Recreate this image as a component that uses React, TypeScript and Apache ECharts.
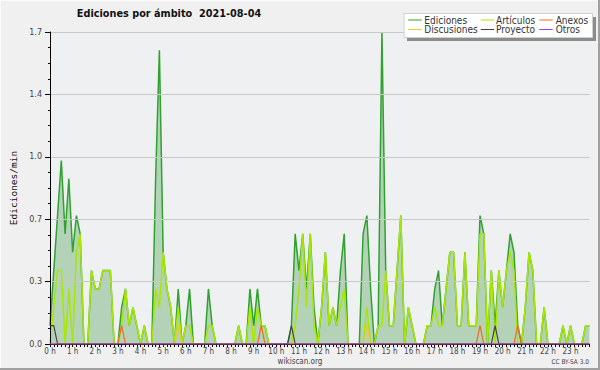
import React, { useEffect, useRef } from 'react';
import * as echarts from 'echarts';

const HOURS = ['0','1','2','3','4','5','6','7','8','9','10','11','12','13','14','15','16','17','18','19','20','21','22','23'];
const MINUTES = ['00','10','20','30','40','50'];

const EDICIONES = [
  0.1,0.4,0.7,1.0,0.6,0.9,0.5,0.7,0.6,0,0,0.4,
  0.3,0.3,0.4,0.4,0.4,0,0,0.2,0.3,0.1,0.2,0.1,
  0,0.1,0,0,0.9,1.6,0.5,0.3,0.2,0,0.3,0,
  0.1,0.3,0,0,0,0,0.3,0.1,0,0,0,0,
  0,0,0.1,0,0,0.3,0.1,0.3,0.1,0.1,0,0,
  0,0,0,0,0.1,0.6,0.4,0.6,0.3,0.6,0.2,0,
  0.2,0.5,0.1,0.2,0.1,0.4,0.6,0,0,0,0,0.6,
  0.7,0.3,0,0.1,1.7,0.4,0.1,0.1,0.4,0.7,0,0.2,
  0.1,0,0,0,0.1,0.1,0.3,0.4,0.1,0.3,0.5,0.5,
  0.1,0.1,0.5,0.1,0.1,0.1,0.7,0.6,0,0.4,0.1,0.4,
  0.2,0.4,0.6,0.5,0.1,0,0.2,0.5,0.4,0,0,0.2,
  0,0,0,0,0.1,0,0.1,0,0,0,0.1,0.1,
];

const ARTICULOS = [
  0,0.2,0.4,0.4,0,0.3,0,0.5,0.6,0,0,0.4,
  0.3,0.3,0.4,0.4,0.4,0,0,0.1,0.3,0.1,0.2,0.1,
  0,0.1,0,0,0.3,0.2,0.5,0.3,0.2,0,0.2,0,
  0.1,0.1,0,0,0,0,0.1,0.1,0,0,0,0,
  0,0,0.1,0,0,0.2,0,0.2,0.1,0.1,0,0,
  0,0,0,0,0,0.1,0.3,0.6,0.2,0.6,0.1,0,
  0.2,0.5,0.1,0.2,0.1,0.2,0.3,0,0,0,0,0,
  0.2,0,0,0.1,0.1,0.4,0.1,0.1,0.4,0.7,0,0.2,
  0.1,0,0,0,0.1,0.1,0.2,0.1,0.1,0.3,0.5,0.5,
  0.1,0.1,0.5,0.1,0.1,0.1,0.6,0.6,0,0.4,0,0.4,
  0.2,0.4,0.5,0.4,0,0,0.2,0.5,0.4,0,0,0.2,
  0,0,0,0,0.1,0,0.1,0,0,0,0.1,0.1,
];

const ANEXOS = [
  0,0,0,0,0,0,0,0,0,0,0,0,
  0,0,0,0,0,0,0,0.1,0,0,0,0,
  0,0,0,0,0,0,0,0,0,0,0,0,
  0,0,0,0,0,0,0,0,0,0,0,0,
  0,0,0,0,0,0,0,0,0.1,0,0,0,
  0,0,0,0,0,0,0,0,0,0,0,0,
  0,0,0,0,0,0,0,0,0,0,0,0,
  0,0,0,0,0,0,0,0,0,0,0,0,
  0,0,0,0,0,0,0,0,0,0,0,0,
  0,0,0,0,0,0,0.1,0,0,0,0,0,
  0,0,0,0,0.1,0,0,0,0,0,0,0,
  0,0,0,0,0,0,0,0,0,0,0,0,
];

const DISCUSIONES = [
  0,0,0,0,0,0,0,0,0,0,0,0,
  0,0,0,0,0,0,0,0,0,0,0,0,
  0,0,0,0,0,0,0,0,0,0,0.1,0,
  0,0,0,0,0,0,0,0,0,0,0,0,
  0,0,0,0,0,0,0,0,0,0,0,0,
  0,0,0,0,0,0,0,0,0,0,0,0,
  0,0,0,0,0,0,0,0,0,0,0,0,
  0.1,0,0,0,0,0,0,0,0,0,0,0,
  0,0,0,0,0,0,0,0,0,0,0,0,
  0,0,0,0,0,0,0,0,0,0,0,0,
  0,0,0,0,0,0,0,0,0,0,0,0,
  0,0,0,0,0,0,0,0,0,0,0,0,
];

const PROYECTO = [
  0.1,0.1,0,0,0,0,0,0,0,0,0,0,
  0,0,0,0,0,0,0,0,0,0,0,0,
  0,0,0,0,0,0,0,0,0,0,0,0,
  0,0,0,0,0,0,0,0,0,0,0,0,
  0,0,0,0,0,0,0,0,0,0,0,0,
  0,0,0,0,0.1,0,0,0,0,0,0,0,
  0,0,0,0,0,0,0,0,0,0,0,0,
  0,0,0,0,0,0,0,0,0,0,0,0,
  0,0,0,0,0,0,0,0,0,0,0,0,
  0,0,0,0,0,0,0,0,0,0,0.1,0,
  0,0,0,0,0,0,0,0,0,0,0,0,
  0,0,0,0,0,0,0,0,0,0,0,0,
];

const OTROS = [
  0,0,0,0,0,0,0,0,0,0,0,0,
  0,0,0,0,0,0,0,0,0,0,0,0,
  0,0,0,0,0,0,0,0,0,0,0,0,
  0,0,0,0,0,0,0,0,0,0,0,0,
  0,0,0,0,0,0,0,0,0,0,0,0,
  0,0,0,0,0,0,0,0,0,0,0,0,
  0,0,0,0,0,0,0,0,0,0,0,0,
  0,0,0,0,0,0,0,0,0,0,0,0,
  0,0,0,0,0,0,0,0,0,0,0,0,
  0,0,0,0,0,0,0,0,0,0,0,0,
  0,0,0,0,0,0,0,0,0,0,0,0,
  0,0,0,0,0,0,0,0,0,0,0,0,
];

const SERIES_NAMES = ['Ediciones', 'Artículos', 'Anexos', 'Discusiones', 'Proyecto', 'Otros'];
const SERIES_COLORS = ['#2fa22f', '#a8e800', '#f06a20', '#f2c820', '#444444', '#9a3cf0'];
const SERIES_DATA = [EDICIONES, ARTICULOS, ANEXOS, DISCUSIONES, PROYECTO, OTROS];
const DRAW_ORDER = [0, 1, 3, 2, 4, 5];

const TITLE = 'Ediciones por ámbito  2021-08-04';
const Y_NAME = 'Ediciones/min';
const FOOTER = 'wikiscan.org';
const LICENSE = 'CC BY-SA 3.0';

const COND = '"DejaVu Sans Condensed", "DejaVu Sans", sans-serif';

export default function App() {
  const ref = useRef<HTMLDivElement>(null);

  useEffect(() => {
    document.body.style.margin = '0';
    const el = ref.current;
    if (!el) return;
    const chart = echarts.init(el, null, { renderer: 'svg' });

    const categories: string[] = [];
    HOURS.forEach((h) => MINUTES.forEach((m) => categories.push(h + ':' + m)));

    const series: any[] = DRAW_ORDER.map((k, idx) => {
      const s: any = {
        name: SERIES_NAMES[k],
        type: 'line',
        data: SERIES_DATA[k],
        showSymbol: false,
        symbol: 'none',
        silent: true,
        z: 2 + idx,
        lineStyle: { color: SERIES_COLORS[k], width: k <= 1 ? 1.5 : 1.2 },
        itemStyle: { color: SERIES_COLORS[k] },
      };
      if (k === 0) {
        s.areaStyle = { color: 'rgba(80,160,80,0.52)' };
      }
      return s;
    });

    const legendEls: any[] = [
      { type: 'rect', shape: { x: 407, y: 17, width: 189, height: 24 }, style: { fill: '#8c8c8c' }, z: 100 },
      { type: 'rect', shape: { x: 404, y: 13.5, width: 188.5, height: 24 }, style: { fill: '#ffffff', stroke: '#d0d0d0', lineWidth: 1 }, z: 101 },
    ];
    const colSample = [408.3, 480.7, 539.3];
    const colText = [424.3, 496, 555.7];
    const rowY = [20, 29.5];
    SERIES_NAMES.forEach((name, k) => {
      const r = Math.floor(k / 3);
      const c = k % 3;
      legendEls.push({
        type: 'line',
        shape: { x1: colSample[c], y1: rowY[r], x2: colSample[c] + 13.4, y2: rowY[r] },
        style: { stroke: SERIES_COLORS[k], lineWidth: 1 },
        z: 102,
      });
      legendEls.push({
        type: 'text',
        x: colText[c],
        y: rowY[r],
        style: { text: name, fill: '#333', font: '10px ' + COND, textVerticalAlign: 'middle', textAlign: 'left' },
        z: 102,
      });
    });

    const option: any = {
      animation: false,
      backgroundColor: '#f0f0f0',
      title: {
        text: TITLE,
        left: 164,
        top: 3,
        textAlign: 'center',
        textStyle: { fontFamily: COND, fontWeight: 'bold', fontSize: 10.8, color: '#111' },
      },
      grid: {
        left: 46,
        top: 32,
        width: 543.4,
        height: 312,
        show: true,
        backgroundColor: '#eef0f2',
        borderWidth: 0,
      },
      xAxis: {
        type: 'category',
        data: categories,
        boundaryGap: false,
        z: 5,
        axisLine: { lineStyle: { color: '#000', width: 1 } },
        axisTick: { show: true, interval: 0, length: 3, lineStyle: { color: '#000' } },
        axisLabel: {
          interval: 5,
          margin: 3,
          fontSize: 8,
          fontFamily: COND,
          color: '#444',
          formatter: (v: string) => v.split(':')[0] + ' h',
        },
        splitLine: { show: false },
      },
      yAxis: {
        type: 'value',
        min: 0,
        max: 1.7,
        interval: 0.34,
        z: 5,
        name: Y_NAME,
        nameLocation: 'middle',
        nameRotate: 90,
        nameGap: 32,
        nameTextStyle: { fontFamily: '"DejaVu Sans Mono", monospace', fontSize: 9.5, color: '#111' },
        axisLine: { show: true, lineStyle: { color: '#000', width: 1 } },
        axisTick: { show: true, length: 5, lineStyle: { color: '#000' } },
        minorTick: { show: true, splitNumber: 4, length: 2, lineStyle: { color: '#000' } },
        axisLabel: {
          margin: 8,
          fontSize: 8,
          fontFamily: '"DejaVu Sans", sans-serif',
          color: '#444',
          formatter: (v: number) => v.toFixed(1),
        },
        splitLine: { show: true, lineStyle: { color: '#c8c8c8', width: 1 } },
      },
      series,
      graphic: [
        ...legendEls,
        {
          type: 'text',
          x: 300,
          y: 361,
          style: { text: FOOTER, fill: '#444', font: '8px ' + COND, textAlign: 'center', textVerticalAlign: 'middle' },
        },
        {
          type: 'text',
          x: 589,
          y: 362,
          style: { text: LICENSE, fill: '#444', font: '6.5px ' + COND, textAlign: 'right', textVerticalAlign: 'middle' },
        },
        { type: 'line', shape: { x1: 0, y1: 0.5, x2: 600, y2: 0.5 }, style: { stroke: '#fafafa', lineWidth: 1 } },
        { type: 'line', shape: { x1: 0.5, y1: 0, x2: 0.5, y2: 370 }, style: { stroke: '#fafafa', lineWidth: 1 } },
        { type: 'rect', shape: { x: 598, y: 0, width: 2, height: 370 }, style: { fill: '#a0a0a0' } },
        { type: 'rect', shape: { x: 0, y: 368, width: 600, height: 2 }, style: { fill: '#a0a0a0' } },
      ],
    };

    chart.setOption(option);
    return () => chart.dispose();
  }, []);

  return <div ref={ref} style={{ width: 600, height: 370, background: '#f0f0f0' }} />;
}
